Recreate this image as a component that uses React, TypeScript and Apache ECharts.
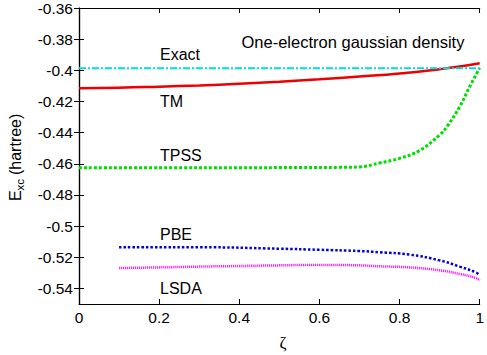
import React, { useEffect, useRef } from "react";
import * as echarts from "echarts";

const exactX = [0, 1];
const exactY = [-0.3987, -0.3987];

const tmX = [0, 0.1, 0.2, 0.3, 0.4, 0.5, 0.6, 0.7, 0.8, 0.9, 0.95, 1.0];
const tmY = [-0.4115, -0.4112, -0.4105, -0.4097, -0.4086, -0.4073, -0.4058, -0.404, -0.402, -0.3993, -0.3976, -0.3954];

const tpssX = [0, 0.2, 0.4, 0.55, 0.65, 0.7, 0.75, 0.8, 0.85, 0.9, 0.92, 0.95, 0.975, 1.0];
const tpssY = [-0.4625, -0.4625, -0.4625, -0.4624, -0.4623, -0.462, -0.4595, -0.4565, -0.4515, -0.4415, -0.4355, -0.4234, -0.4105, -0.3985];

const pbeX = [0.1, 0.3, 0.5, 0.6, 0.7, 0.75, 0.825, 0.9, 0.95, 0.99, 1.0];
const pbeY = [-0.5136, -0.5136, -0.5145, -0.5152, -0.516, -0.5168, -0.5183, -0.522, -0.526, -0.5297, -0.5318];

const lsdaX = [0.1, 0.2, 0.3, 0.4, 0.5, 0.6, 0.7, 0.75, 0.825, 0.9, 0.95, 0.99, 1.0];
const lsdaY = [-0.5269, -0.5265, -0.526, -0.5256, -0.5252, -0.5249, -0.5252, -0.5258, -0.5265, -0.5284, -0.5307, -0.5333, -0.535];

const yTicks = [-0.54, -0.52, -0.5, -0.48, -0.46, -0.44, -0.42, -0.4, -0.38, -0.36];

const zip = (xs: number[], ys: number[]) => xs.map((x, i) => [x, ys[i]]);

const FONT = "'Liberation Sans', Arial, Helvetica, sans-serif";

export default function App() {
  const ref = useRef<HTMLDivElement>(null);
  useEffect(() => {
    if (!ref.current) return;
    const chart = echarts.init(ref.current, undefined, { renderer: "svg" });
    const axisLine = { show: true, lineStyle: { color: "#000", width: 1.2 } };
    const tick = { show: true, inside: true, length: 5, lineStyle: { color: "#000", width: 1 } };
    const labelStyle = { color: "#000", fontSize: 15.5, fontFamily: FONT };
    const fmt = (v: number) => String(parseFloat(v.toFixed(4)));
    const lbl = (text: string, x: number, y: number, size = 16) => ({
      type: "text", x, y,
      style: { text, fontSize: size, fontFamily: FONT, fill: "#000", align: "left", verticalAlign: "middle" },
    });
    chart.setOption({
      animation: false,
      backgroundColor: "#fff",
      grid: { left: 79, right: 3, top: 8, bottom: 51, containLabel: false },
      xAxis: [
        {
          type: "value", min: 0, max: 1, interval: 0.2, position: "bottom",
          axisLine, axisTick: tick, splitLine: { show: false },
          axisLabel: { ...labelStyle, margin: 5, formatter: fmt, showMaxLabel: true, showMinLabel: true },
        },
        {
          type: "value", min: 0, max: 1, interval: 0.2, position: "top",
          axisLine, axisTick: tick, splitLine: { show: false }, axisLabel: { show: false },
        },
      ],
      yAxis: [
        {
          type: "value", min: -0.55, max: -0.36, position: "left",
          axisLine, splitLine: { show: false },
          axisTick: { ...tick, customValues: yTicks },
          axisLabel: { ...labelStyle, margin: 6, customValues: yTicks, formatter: fmt },
        },
        {
          type: "value", min: -0.55, max: -0.36, position: "right",
          axisLine, splitLine: { show: false },
          axisTick: { ...tick, customValues: yTicks },
          axisLabel: { show: false },
        },
      ],
      series: [
        {
          name: "TM", type: "line", data: zip(tmX, tmY), showSymbol: false, smooth: true,
          lineStyle: { color: "#ee0000", width: 2.5, type: "solid" },
        },
        {
          name: "TPSS", type: "line", data: zip(tpssX, tpssY), showSymbol: false, smooth: 0.4,
          lineStyle: { color: "#00dd00", width: 3, type: [3, 2] },
        },
        {
          name: "PBE", type: "line", data: zip(pbeX, pbeY), showSymbol: false, smooth: true,
          lineStyle: { color: "#0000dd", width: 2.5, type: [2.5, 2] },
        },
        {
          name: "LSDA", type: "line", data: zip(lsdaX, lsdaY), showSymbol: false, smooth: true,
          lineStyle: { color: "#ff22ff", width: 2.5, type: [1.2, 0.8] },
        },
        {
          name: "Exact", type: "line", data: zip(exactX, exactY), showSymbol: false,
          lineStyle: { color: "#00dddd", width: 2, type: [7, 2, 2, 2] },
        },
      ],
      graphic: [
        lbl("One-electron gaussian density", 241.5, 41.7, 16.5),
        lbl("Exact", 160, 54.5),
        lbl("TM", 160, 101.3),
        lbl("TPSS", 160, 155),
        lbl("PBE", 160, 234),
        lbl("LSDA", 160, 288),
        { type: "text", x: 283, y: 342, style: { text: "ζ", fontSize: 17, fontFamily: "'Liberation Serif', 'DejaVu Serif', serif", fill: "#000", align: "center", verticalAlign: "middle" } },
        {
          type: "group", x: 15.5, y: 201, rotation: Math.PI / 2,
          children: [
            { type: "text", x: 0, y: 0, style: { text: "E", fontSize: 16, fontFamily: FONT, fill: "#000", align: "left", verticalAlign: "middle" } },
            { type: "text", x: 10.5, y: 4.5, style: { text: "xc", fontSize: 11.5, fontFamily: FONT, fill: "#000", align: "left", verticalAlign: "middle" } },
            { type: "text", x: 26, y: 0, style: { text: "(hartree)", fontSize: 16, fontFamily: FONT, fill: "#000", align: "left", verticalAlign: "middle" } },
          ],
        },
      ],
    });
    return () => chart.dispose();
  }, []);
  return <div ref={ref} style={{ position: "fixed", left: 0, top: 0, width: 487, height: 355 }} />;
}
